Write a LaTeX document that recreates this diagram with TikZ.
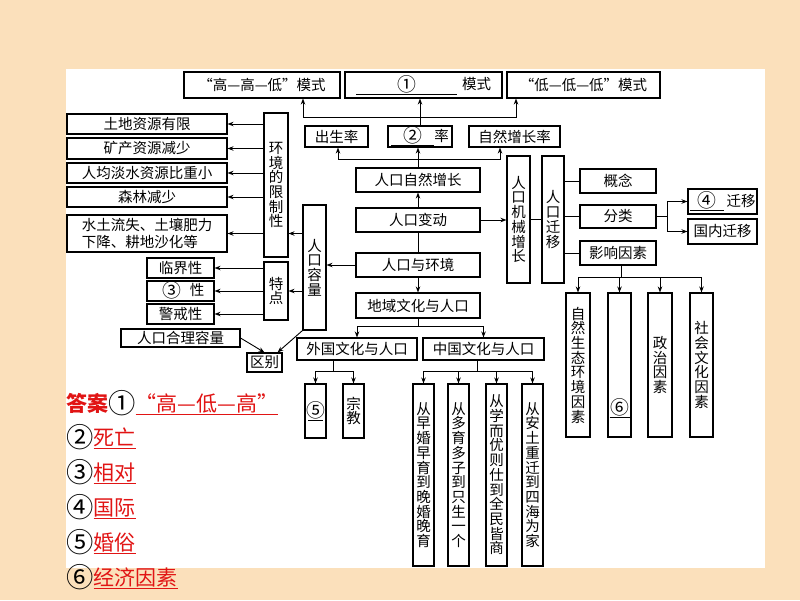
\documentclass[tikz,border=0pt]{standalone}
\usepackage{fontspec}
\usepackage{graphicx}
\setmainfont{Noto Sans CJK SC}
\usetikzlibrary{arrows.meta}
\definecolor{bgc}{RGB}{251,224,187}
\definecolor{ansred}{RGB}{225,20,20}
\newcommand\blank[2]{\underline{\makebox[#1]{#2}}}
\newcommand\cdig[1]{\raisebox{-0.1em}{\scalebox{1.3}{#1}}}
\begin{document}
\begin{tikzpicture}[x=1pt,y=-1pt,
  bx/.style={draw, line width=1.1pt, inner sep=0pt, font=\fontsize{14.5}{15}\selectfont},
  vb/.style={bx, align=center, font=\fontsize{14.5}{14.7}\selectfont},
  ln/.style={line width=0.9pt},
  arr/.style={ln, -{Stealth[length=6pt,width=4.5pt]}},
  ans/.style={anchor=west, inner sep=0pt, font=\fontsize{21}{22}\selectfont}]
\useasboundingbox (0,0) rectangle (800,600);
\fill[bgc] (0,0) rectangle (800,600);
\fill[white] (66,69) rectangle (765,568);

% top row
\node[bx,minimum width=156,minimum height=26] (t1) at (262,85) {“高—高—低”模式};
\node[bx,minimum width=157,minimum height=26] (t2) at (423.5,85) {\blank{101pt}{\cdig{①}}\hspace{5pt}模式};
\node[bx,minimum width=153,minimum height=26] (t3) at (583.5,85) {“低—低—低”模式};
% rates
\node[bx,minimum width=63,minimum height=21] (r1) at (336.5,136.5) {出生率};
\node[bx,minimum width=64,minimum height=21] (r2) at (420,136.5) {\blank{43pt}{\cdig{②}}率};
\node[bx,minimum width=91,minimum height=21] (r3) at (514.5,136.5) {自然增长率};
% center column
\node[bx,minimum width=124,minimum height=24] (n1) at (418,180) {人口自然增长};
\node[bx,minimum width=124,minimum height=24] (n2) at (418,220) {人口变动};
\node[bx,minimum width=124,minimum height=24] (n3) at (418,265) {人口与环境};
\node[bx,minimum width=124,minimum height=25] (n4) at (418,305.5) {地域文化与人口};
\node[bx,minimum width=120,minimum height=22] (f1) at (357,349) {外国文化与人口};
\node[bx,minimum width=121,minimum height=22] (f2) at (483.5,349) {中国文化与人口};
\node[vb,minimum width=21,minimum height=54] (g1) at (315.5,411) {\blank{15pt}{\cdig{⑤}}};
\node[vb,minimum width=21,minimum height=54] (g2) at (353.5,411) {宗\\教};
\node[vb,minimum width=21,minimum height=182] (h1) at (423.5,475) {从\\早\\婚\\早\\育\\到\\晚\\婚\\晚\\育};
\node[vb,minimum width=21,minimum height=182] (h2) at (458.5,475) {从\\多\\育\\多\\子\\到\\只\\生\\一\\个};
\node[vb,minimum width=21,minimum height=182] (h3) at (496.5,475) {从\\学\\而\\优\\则\\仕\\到\\全\\民\\皆\\商};
\node[vb,minimum width=21,minimum height=182] (h4) at (532.5,475) {从\\安\\土\\重\\迁\\到\\四\\海\\为\\家};
% right side
\node[vb,minimum width=23,minimum height=127] (m1) at (518.5,219.5) {人\\口\\机\\械\\增\\长};
\node[vb,minimum width=22,minimum height=127] (m2) at (553,219.5) {人\\口\\迁\\移};
\node[bx,minimum width=76,minimum height=24] (p1) at (618,181) {概念};
\node[bx,minimum width=76,minimum height=23] (p2) at (618,216.5) {分类};
\node[bx,minimum width=76,minimum height=24] (p3) at (618,253) {影响因素};
\node[bx,minimum width=69,minimum height=25] (q1) at (722.5,201.5) {\blank{34pt}{\cdig{④}}\hspace{3pt}迁移};
\node[bx,minimum width=69,minimum height=25] (q2) at (722.5,231.5) {国内迁移};
\node[vb,minimum width=24,minimum height=144] (s1) at (578,365) {自\\然\\生\\态\\环\\境\\因\\素};
\node[vb,minimum width=23,minimum height=144] (s2) at (619.5,365) {};
\node[inner sep=0pt,font=\fontsize{14.5}{15}\selectfont] (s2t) at (619.5,408) {\blank{20pt}{\cdig{⑥}}};
\node[vb,minimum width=24,minimum height=144] (s3) at (660,365) {政\\治\\因\\素};
\node[vb,minimum width=23,minimum height=144] (s4) at (701.5,365) {社\\会\\文\\化\\因\\素};
% left side
\node[vb,minimum width=24,minimum height=144] (e1) at (276,185) {环\\境\\的\\限\\制\\性};
\node[bx,minimum width=160,minimum height=20] (L1) at (147,124) {土地资源有限};
\node[bx,minimum width=160,minimum height=21] (L2) at (147,148.5) {矿产资源减少};
\node[bx,minimum width=160,minimum height=20] (L3) at (147,173) {人均淡水资源比重小};
\node[bx,minimum width=160,minimum height=20] (L4) at (147,197) {森林减少};
\node[bx,minimum width=160,minimum height=37,align=left,font=\fontsize{14.5}{17}\selectfont] (L5) at (147,233.5) {水土流失、土壤肥力\\下降、耕地沙化等};
\node[vb,minimum width=23,minimum height=125] (c1) at (314.5,267.5) {人\\口\\容\\量};
\node[vb,minimum width=24,minimum height=58] (d1) at (276,291) {特\\点};
\node[bx,minimum width=67,minimum height=20] (K1) at (180.5,268) {临界性};
\node[bx,minimum width=67,minimum height=20] (K2) at (180.5,291) {\blank{30pt}{\cdig{③}}\hspace{3pt}性};
\node[bx,minimum width=67,minimum height=20] (K3) at (180.5,314) {警戒性};
\node[bx,minimum width=119,minimum height=18] (R1) at (180.5,338) {人口合理容量};
\node[bx,minimum width=35,minimum height=19] (Q) at (264.5,362.5) {区别};

% connectors top
\draw[ln] (r2.north) -- (r2.north |- 0,117) coordinate (j0);
\draw[arr] (j0) -- (j0 |- t2.south);
\draw[arr] (j0) -| (t1.south -| 303,0);
\draw[arr] (j0) -| (t3.south -| 516,0);
\draw[ln] (n1.north) -- (n1.north |- 0,159) coordinate (j1);
\draw[arr] (j1) -- (j1 |- r2.south);
\draw[arr] (j1) -| (r1.south -| 338,0);
\draw[arr] (j1) -| (r3.south -| 500,0);
\draw[arr] (n2) -- (n1);
\draw[arr] (n2.east) -- (m1.west |- n2.east);
\draw[ln] (n2) -- (n3);
\draw[arr] (n3) -- (n4);
\draw[arr] (n3.west) -- (c1.east |- n3.west);
\draw[ln] (n4.south) -- ++(0,8) coordinate (j2);
\draw[arr] (j2) -| (f1.north);
\draw[arr] (j2) -| (f2.north);
\draw[ln] (f1.south -| 333,0) -- ++(0,11) coordinate (j3);
\draw[arr] (j3) -| (g1.north);
\draw[arr] (j3) -| (g2.north);
\draw[ln] (f2.south -| 477,0) -- ++(0,11) coordinate (j4);
\draw[arr] (j4) -| (h1.north);
\draw[arr] (j4) -| (h2.north);
\draw[arr] (j4) -| (h3.north);
\draw[arr] (j4) -| (h4.north);
% right connectors
\draw[ln] (m1) -- (m2);
\draw[ln] (m2.east |- p1.west) -- (p1.west);
\draw[ln] (m2.east |- p2.west) -- (p2.west);
\draw[ln] (m2.east |- p3.west) -- (p3.west);
\draw[ln] (p2.east) -- (p2.east -| 667,0) coordinate (j5);
\draw[arr] (j5) |- (q1.west);
\draw[arr] (j5) |- (q2.west);
\draw[ln] (p3.south -| 621,0) -- ++(0,12) coordinate (j6);
\draw[arr] (j6) -| (s1.north);
\draw[arr] (j6) -| (s2.north);
\draw[arr] (j6) -| (s3.north);
\draw[arr] (j6) -| (s4.north);
% left connectors
\draw[arr] (e1.west |- L1.east) -- (L1.east);
\draw[arr] (e1.west |- L2.east) -- (L2.east);
\draw[arr] (e1.west |- L3.east) -- (L3.east);
\draw[arr] (e1.west |- L4.east) -- (L4.east);
\draw[arr] (e1.west |- L5.east) -- (L5.east);
\draw[arr] (c1.west |- L5.east) -- (e1.east |- L5.east);
\draw[arr] (c1.west |- d1.east) -- (d1.east);
\draw[arr] (d1.west |- K1.east) -- (K1.east);
\draw[arr] (d1.west |- K2.east) -- (K2.east);
\draw[arr] (d1.west |- K3.east) -- (K3.east);
\draw[arr] (R1.east) -- (Q.north);
\draw[arr] (c1.south west) -- ([xshift=13pt]Q.north);

% answers
\node[ans] (a1) at (66,403) {\textcolor{ansred}{\bfseries 答案}\cdig{①}\textcolor{ansred}{\underline{“高—低—高”}}};
\node[ans] (a2) at (66,437) {\cdig{②}\textcolor{ansred}{\underline{死亡}}};
\node[ans] (a3) at (66,472) {\cdig{③}\textcolor{ansred}{\underline{相对}}};
\node[ans] (a4) at (66,507) {\cdig{④}\textcolor{ansred}{\underline{国际}}};
\node[ans] (a5) at (66,542) {\cdig{⑤}\textcolor{ansred}{\underline{婚俗}}};
\node[ans] (a6) at (66,577) {\cdig{⑥}\textcolor{ansred}{\underline{经济因素}}};
\end{tikzpicture}
\end{document}
